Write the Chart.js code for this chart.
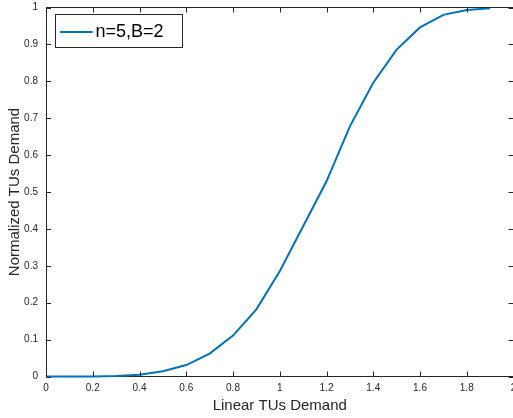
<!DOCTYPE html>
<html>
<head>
<meta charset="utf-8">
<script src="https://cdn.jsdelivr.net/npm/chart.js@4/dist/chart.umd.min.js"></script>
<style>
    html, body { margin: 0; padding: 0; overflow: hidden; background: #fff; }
    #wrap { width: 513px; height: 418px; overflow: hidden; }
</style>
</head>
<body>
<div id="wrap"><canvas id="demand" width="540" height="418"></canvas></div>
<script>
const linearDemand = [0, 0.1, 0.2, 0.3, 0.4, 0.5, 0.6, 0.7, 0.8, 0.9, 1.0, 1.1, 1.2, 1.3, 1.4, 1.5, 1.6, 1.7, 1.8, 1.9];
const normalizedDemand = [0, 0, 0.0003, 0.0015, 0.005, 0.014, 0.031, 0.062, 0.111, 0.182, 0.285, 0.407, 0.529, 0.678, 0.796, 0.886, 0.946, 0.980, 0.993, 0.998];
const seriesLabel = 'n=5,B=2';
const xTicks = [0, 0.2, 0.4, 0.6, 0.8, 1, 1.2, 1.4, 1.6, 1.8, 2];
const yTicks = [0, 0.1, 0.2, 0.3, 0.4, 0.5, 0.6, 0.7, 0.8, 0.9, 1];

const axisColor = '#262626';
const lineColor = '#0072bd';

// matlab style box: inward ticks on all four sides, top/right frame
const boxTicks = {
    id: 'boxTicks',
    afterDatasetsDraw(chart) {
        const ctx = chart.ctx;
        const a = chart.chartArea;
        const xs = chart.scales.x;
        const ys = chart.scales.y;
        const len = 5;
        ctx.save();
        ctx.lineWidth = 1;
        ctx.strokeStyle = axisColor;
        ctx.beginPath();
        ctx.moveTo(a.left, a.top);
        ctx.lineTo(a.right, a.top);
        ctx.lineTo(a.right, a.bottom);
        ctx.stroke();
        ctx.beginPath();
        for (let i = 0; i < xTicks.length; i++) {
            let px = Math.round(xs.getPixelForValue(xTicks[i])) + 0.5;
            ctx.moveTo(px, a.bottom);
            ctx.lineTo(px, a.bottom - len);
            ctx.moveTo(px, a.top);
            ctx.lineTo(px, a.top + len);
        }
        for (let i = 0; i < yTicks.length; i++) {
            let py = Math.round(ys.getPixelForValue(yTicks[i])) + 0.5;
            ctx.moveTo(a.left, py);
            ctx.lineTo(a.left + len, py);
            ctx.moveTo(a.right, py);
            ctx.lineTo(a.right - len, py);
        }
        ctx.stroke();
        ctx.restore();
    }
};

// legend box in the upper left corner of the plot
const boxLegend = {
    id: 'boxLegend',
    afterDraw(chart) {
        const ctx = chart.ctx;
        const a = chart.chartArea;
        const ds = chart.data.datasets[0];
        const x = Math.round(a.left) + 9.5;
        const y = Math.round(a.top) + 6.5;
        ctx.save();
        ctx.font = '18px "Liberation Sans", Arial, sans-serif';
        const w = 127;
        const h = 33;
        ctx.fillStyle = '#fff';
        ctx.fillRect(x, y, w, h);
        ctx.strokeStyle = axisColor;
        ctx.lineWidth = 1;
        ctx.strokeRect(x, y, w, h);
        ctx.strokeStyle = ds.borderColor;
        ctx.lineWidth = 2;
        ctx.beginPath();
        ctx.moveTo(x + 4.5, y + h / 2 + 1);
        ctx.lineTo(x + 37, y + h / 2 + 1);
        ctx.stroke();
        ctx.fillStyle = '#000';
        ctx.textBaseline = 'middle';
        ctx.fillText(ds.label, x + 40, y + h / 2 + 1);
        ctx.restore();
    }
};

const points = [];
for (let i = 0; i < linearDemand.length; i++) {
    points.push({ x: linearDemand[i], y: normalizedDemand[i] });
}

const tickFont = { family: '"Liberation Sans", Arial, sans-serif', size: 10 };
const titleFont = { family: '"Liberation Sans", Arial, sans-serif', size: 15 };

const data = {
    datasets: [{
        label: seriesLabel,
        data: points,
        borderColor: lineColor,
        backgroundColor: lineColor,
        borderWidth: 2,
        pointRadius: 0,
        tension: 0,
        clip: 4,
    }],
};

const config = {
    type: 'line',
    data: data,
    options: {
        responsive: false,
        animation: false,
        events: [],
        layout: { padding: { left: 0, top: 7.5, right: 26.5, bottom: 0 } },
        plugins: {
            legend: { display: false },
            tooltip: { enabled: false },
        },
        scales: {
            x: {
                type: 'linear',
                min: 0,
                max: 2,
                afterBuildTicks(scale) {
                    scale.ticks = xTicks.map(v => ({ value: v }));
                },
                afterFit(scale) {
                    scale.height = 41.5;
                    scale.paddingLeft = 0;
                    scale.paddingRight = 0;
                },
                ticks: {
                    color: axisColor,
                    font: tickFont,
                    padding: 6,
                    maxRotation: 0,
                    callback: v => String(+v.toFixed(1)),
                },
                grid: { display: false, drawTicks: false, tickLength: 0 },
                border: { display: true, color: axisColor, width: 1 },
                title: {
                    display: true,
                    text: 'Linear TUs Demand',
                    color: axisColor,
                    font: titleFont,
                    padding: { top: 0, bottom: 3 },
                },
            },
            y: {
                type: 'linear',
                min: 0,
                max: 1,
                afterBuildTicks(scale) {
                    scale.ticks = yTicks.map(v => ({ value: v }));
                },
                afterFit(scale) {
                    scale.width = 46;
                    scale.paddingTop = 0;
                    scale.paddingBottom = 0;
                },
                ticks: {
                    color: axisColor,
                    font: tickFont,
                    padding: 8,
                    callback: v => String(+v.toFixed(1)),
                },
                grid: { display: false, drawTicks: false, tickLength: 0 },
                border: { display: true, color: axisColor, width: 1 },
                title: {
                    display: true,
                    text: 'Normalized TUs Demand',
                    color: axisColor,
                    font: titleFont,
                    padding: { top: 6, bottom: 0 },
                },
            },
        },
    },
    plugins: [boxTicks, boxLegend],
};

var ctx = document.getElementById('demand').getContext('2d');
new Chart(ctx, config);
</script>
</body>
</html>
